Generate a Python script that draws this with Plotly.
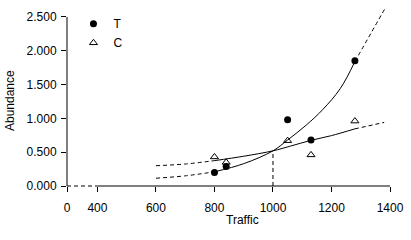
import numpy as np
import plotly.graph_objects as go

# ---- data ----
x_T = [800, 840, 1050, 1130, 1280]
y_T = [0.20, 0.29, 0.98, 0.68, 1.85]
x_C = [800, 840, 1050, 1130, 1280]
y_C = [0.43, 0.35, 0.67, 0.46, 0.96]

# fitted curves
curveT_x = [600, 700, 800, 900, 1000, 1050, 1115, 1170, 1230, 1280, 1335, 1385]
curveT_y = [0.115, 0.15, 0.21, 0.33, 0.52, 0.68, 0.905, 1.13, 1.44, 1.84, 2.26, 2.64]
curveC_x = [600, 700, 800, 900, 1000, 1060, 1130, 1200, 1280, 1380]
curveC_y = [0.30, 0.325, 0.375, 0.44, 0.52, 0.59, 0.675, 0.745, 0.845, 0.94]

# crossing marker
cross_x = 1000
cross_y = 0.52

x_tickvals = [296, 400, 600, 800, 1000, 1200, 1400]
x_ticktext = ["0", "400", "600", "800", "1000", "1200", "1400"]
y_tickvals = [0, 0.5, 1.0, 1.5, 2.0, 2.5]
y_ticktext = ["0.000", "0.500", "1.000", "1.500", "2.000", "2.500"]

X_RANGE = [296, 1400]
Y_RANGE = [0, 2.75]
FONT = "Liberation Sans, Arial, sans-serif"
DASH = "4px,3px"

fig = go.Figure()

def add_curve(cx, cy, lo, hi):
    cx = np.array(cx); cy = np.array(cy)
    segs = [(cx <= lo, DASH), ((cx >= lo) & (cx <= hi), "solid"), (cx >= hi, DASH)]
    for m, d in segs:
        fig.add_trace(go.Scatter(x=cx[m], y=cy[m], mode="lines", line_shape="spline",
                                 line=dict(color="black", width=1, dash=d),
                                 showlegend=False, hoverinfo="skip"))

lo, hi = min(x_T), max(x_T)
add_curve(curveT_x, curveT_y, lo, hi)
add_curve(curveC_x, curveC_y, lo, hi)

fig.add_trace(go.Scatter(x=[cross_x, cross_x], y=[0, cross_y], mode="lines",
                         line=dict(color="black", width=1, dash=DASH),
                         showlegend=False, hoverinfo="skip"))

fig.add_trace(go.Scatter(x=x_T, y=y_T, mode="markers", name="T",
                         marker=dict(symbol="circle", size=7, color="black")))
fig.add_trace(go.Scatter(x=x_C, y=y_C, mode="markers", name="C",
                         marker=dict(symbol="triangle-up-open", size=7, color="black",
                                     line=dict(width=1, color="black"))))

def px(x):
    return (x - X_RANGE[0]) / (X_RANGE[1] - X_RANGE[0])

def py(y):
    return (y - Y_RANGE[0]) / (Y_RANGE[1] - Y_RANGE[0])

shapes = [
    # x axis: dashed break part and solid part
    dict(type="line", xref="paper", yref="paper", x0=px(x_tickvals[0]), x1=px(x_tickvals[1]),
         y0=0, y1=0, line=dict(color="black", width=1, dash=DASH)),
    dict(type="line", xref="paper", yref="paper", x0=px(x_tickvals[1]), x1=px(x_tickvals[-1]),
         y0=0, y1=0, line=dict(color="black", width=1)),
    # y axis
    dict(type="line", xref="paper", yref="paper", x0=0, x1=0,
         y0=py(y_tickvals[0]), y1=py(y_tickvals[-1]), line=dict(color="black", width=1)),
]

fig.update_layout(
    width=411, height=240,
    margin=dict(l=67, r=21, t=0, b=54),
    paper_bgcolor="white", plot_bgcolor="white",
    font=dict(family=FONT, size=12, color="black"),
    shapes=shapes,
    showlegend=True,
    legend=dict(x=0.02, y=0.95, xanchor="left", yanchor="top",
                bgcolor="rgba(0,0,0,0)", font=dict(size=12), tracegroupgap=0),
    xaxis=dict(range=X_RANGE, showgrid=False, zeroline=False, showline=False,
               tickvals=x_tickvals, ticktext=x_ticktext, ticks="outside",
               ticklen=5, tickwidth=1, tickcolor="black", ticklabelstandoff=6),
    yaxis=dict(range=Y_RANGE, showgrid=False, zeroline=False, showline=False,
               tickvals=y_tickvals, ticktext=y_ticktext, ticks="outside",
               ticklen=5, tickwidth=1, tickcolor="black", ticklabelstandoff=2),
    annotations=[
        dict(text="Traffic", xref="paper", yref="paper", x=(242 - 67) / 323, y=(186 - 220) / 186,
             showarrow=False, xanchor="center", yanchor="middle", font=dict(size=12)),
        dict(text="Abundance", xref="paper", yref="paper", x=(10 - 67) / 323, y=(186 - 100) / 186,
             showarrow=False, textangle=-90, xanchor="center", yanchor="middle", font=dict(size=12)),
    ],
)

fig.write_html("out.html")
